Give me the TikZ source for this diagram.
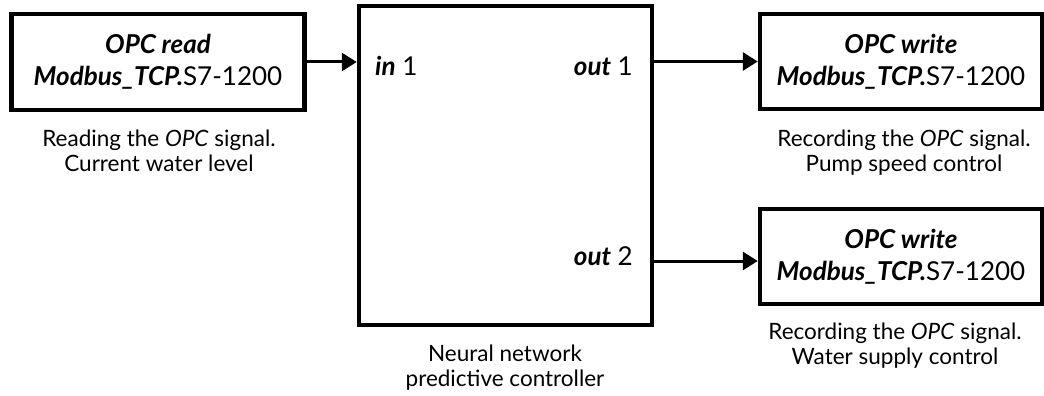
\documentclass[tikz,border=0pt]{standalone}
\usepackage{fontspec}
\setmainfont{Lato}
\usetikzlibrary{arrows.meta}
\begin{document}
\begin{tikzpicture}[x=1pt,y=-1pt,
  block/.style={draw,line width=4.5pt,inner sep=0pt,align=center},
  title/.style={font=\fontsize{26}{32}\selectfont},
  caption/.style={font=\fontsize{22.5}{25}\selectfont,align=center,inner sep=0pt},
  port/.style={font=\fontsize{26}{30}\selectfont,inner sep=0pt},
  flow/.style={line width=3pt,-{Triangle[length=15pt,width=18pt]}}]
\useasboundingbox (0,0) rectangle (1044,396);
% blocks
\node[block,title,minimum width=293pt,minimum height=96pt] (opcr) at (158,62)
  {\textbf{\textit{OPC read}}\\\textbf{\textit{Modbus\_TCP.}}S7-1200};
\node[block,minimum width=293pt,minimum height=319pt] (nn) at (505.5,165.5) {};
\node[block,title,minimum width=282pt,minimum height=95pt] (opcw1) at (901,61.5)
  {\textbf{\textit{OPC write}}\\\textbf{\textit{Modbus\_TCP.}}S7-1200};
\node[block,title,minimum width=282pt,minimum height=95pt] (opcw2) at (901,256.5)
  {\textbf{\textit{OPC write}}\\\textbf{\textit{Modbus\_TCP.}}S7-1200};
% ports of the controller
\node[port,anchor=base west] (in1) at (375,75) {\textbf{\textit{in}} 1};
\node[port,anchor=base east] (out1) at (633,75) {\textbf{\textit{out}} 1};
\node[port,anchor=base east] (out2) at (633,265) {\textbf{\textit{out}} 2};
% captions (anchored on the baseline of their last line)
\node[caption,anchor=base] (capr) at (159,171)
  {Reading the \textit{OPC} signal.\\Current water level};
\node[caption,anchor=base] (capnn) at (505,386)
  {Neural network\\predictive controller};
\node[caption,anchor=base] (capw1) at (904,171)
  {Recording the \textit{OPC} signal.\\Pump speed control};
\node[caption,anchor=base] (capw2) at (895,364)
  {Recording the \textit{OPC} signal.\\Water supply control};
% signal flow
\draw[flow] (opcr.east) -- (nn.west |- opcr.east);
\draw[flow] (nn.east |- opcw1.west) -- (opcw1.west);
\draw[flow] ([yshift=-4.5pt]nn.east |- opcw2.west) -- ([yshift=-4.5pt]opcw2.west);
\end{tikzpicture}
\end{document}
